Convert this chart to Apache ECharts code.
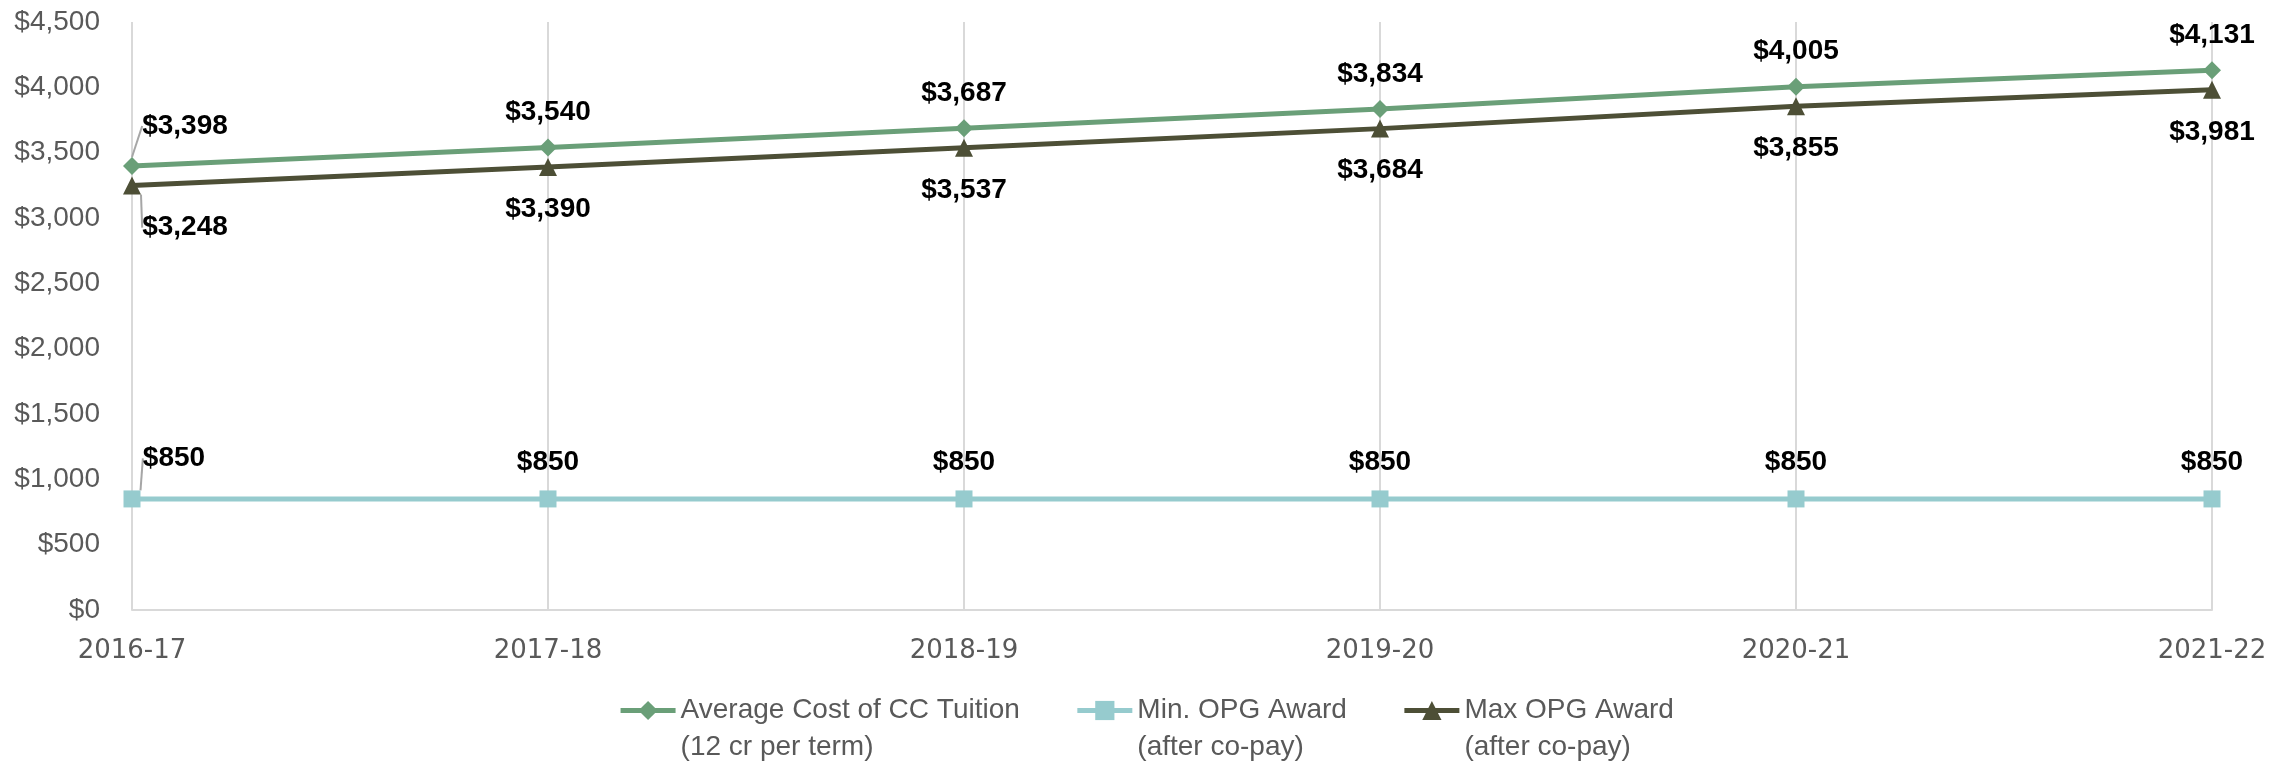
<!DOCTYPE html>
<html>
<head>
<meta charset="utf-8">
<script src="https://cdn.jsdelivr.net/npm/echarts@6/dist/echarts.min.js"></script>
<style>
  html, body { margin: 0; padding: 0; background: #fff; }
  #chart { width: 2292px; height: 764px; }
</style>
</head>
<body>
<div id="chart"></div>
<script>
  var years = ['2016-17', '2017-18', '2018-19', '2019-20', '2020-21', '2021-22']
  var avgCost = [3398, 3540, 3687, 3834, 4005, 4131]
  var minAward = [850, 850, 850, 850, 850, 850]
  var maxAward = [3248, 3390, 3537, 3684, 3855, 3981]

  var nameAvg = 'Average Cost of CC Tuition\n(12 cr per term)'
  var nameMin = 'Min. OPG Award\n(after co-pay)'
  var nameMax = 'Max OPG Award\n(after co-pay)'

  function money (v) {
    return '$' + Number(v).toLocaleString('en-US')
  }

  // first point of each series gets a leader line like the original
  function withLeader (arr) {
    return arr.map(function (v, i) {
      if (i === 0) {
        return { value: v, labelLine: { show: true, lineStyle: { color: '#A6A6A6', width: 2 } } }
      }
      return v
    })
  }

  var labelFont = {
    fontFamily: 'Liberation Sans',
    fontSize: 28,
    fontWeight: 'bold',
    color: '#000'
  }

  var myChart = echarts.init(document.getElementById('chart'))

  var option = {
    animation: false,
    backgroundColor: '#fff',
    grid: { left: 132, right: 80, top: 22, bottom: 154, containLabel: false },
    legend: {
      top: 650,
      left: 'center',
      itemWidth: 55,
      itemHeight: 24,
      itemGap: 55,
      data: [nameAvg, nameMin, nameMax],
      lineStyle: { width: 5 },
      // blank first line keeps the marker level with the first text line
      formatter: function (name) { return '\n' + name },
      textStyle: {
        fontFamily: 'Liberation Sans',
        fontSize: 28,
        lineHeight: 37,
        color: '#595959'
      }
    },
    xAxis: {
      type: 'category',
      data: years,
      boundaryGap: false,
      axisLine: { lineStyle: { color: '#D9D9D9', width: 2 } },
      axisTick: { show: false },
      splitLine: { show: true, lineStyle: { color: '#D9D9D9', width: 2 } },
      axisLabel: {
        fontFamily: 'DejaVu Sans',
        fontSize: 26,
        color: '#595959',
        margin: 28
      }
    },
    yAxis: {
      type: 'value',
      min: 0,
      max: 4500,
      interval: 500,
      axisLine: { show: false },
      axisTick: { show: false },
      splitLine: { show: false },
      axisLabel: {
        fontFamily: 'Liberation Sans',
        fontSize: 28,
        color: '#595959',
        margin: 32,
        formatter: money
      }
    },
    series: [{
      name: nameAvg,
      type: 'line',
      data: withLeader(avgCost),
      symbol: 'diamond',
      symbolSize: 18,
      lineStyle: { color: '#6A9F78', width: 5 },
      itemStyle: { color: '#6A9F78' },
      label: Object.assign({ show: true, position: 'top', distance: 12, formatter: function (p) { return money(p.value) } }, labelFont),
      labelLayout: function (p) {
        return p.dataIndex === 0 ? { dx: 53, dy: -5 } : {}
      }
    }, {
      name: nameMin,
      type: 'line',
      data: withLeader(minAward),
      symbol: 'rect',
      symbolSize: 17,
      lineStyle: { color: '#96CBCE', width: 5 },
      itemStyle: { color: '#96CBCE' },
      label: Object.assign({ show: true, position: 'top', distance: 14, formatter: function (p) { return money(p.value) } }, labelFont),
      labelLayout: function (p) {
        return p.dataIndex === 0 ? { dx: 42, dy: -4 } : {}
      }
    }, {
      name: nameMax,
      type: 'line',
      data: withLeader(maxAward),
      symbol: 'triangle',
      symbolSize: 18,
      lineStyle: { color: '#4D4F36', width: 5 },
      itemStyle: { color: '#4D4F36' },
      label: Object.assign({ show: true, position: 'bottom', distance: 19, formatter: function (p) { return money(p.value) } }, labelFont),
      labelLayout: function (p) {
        return p.dataIndex === 0 ? { dx: 53, dy: 0 } : {}
      }
    }]
  }
  myChart.setOption(option)
</script>
</body>
</html>
